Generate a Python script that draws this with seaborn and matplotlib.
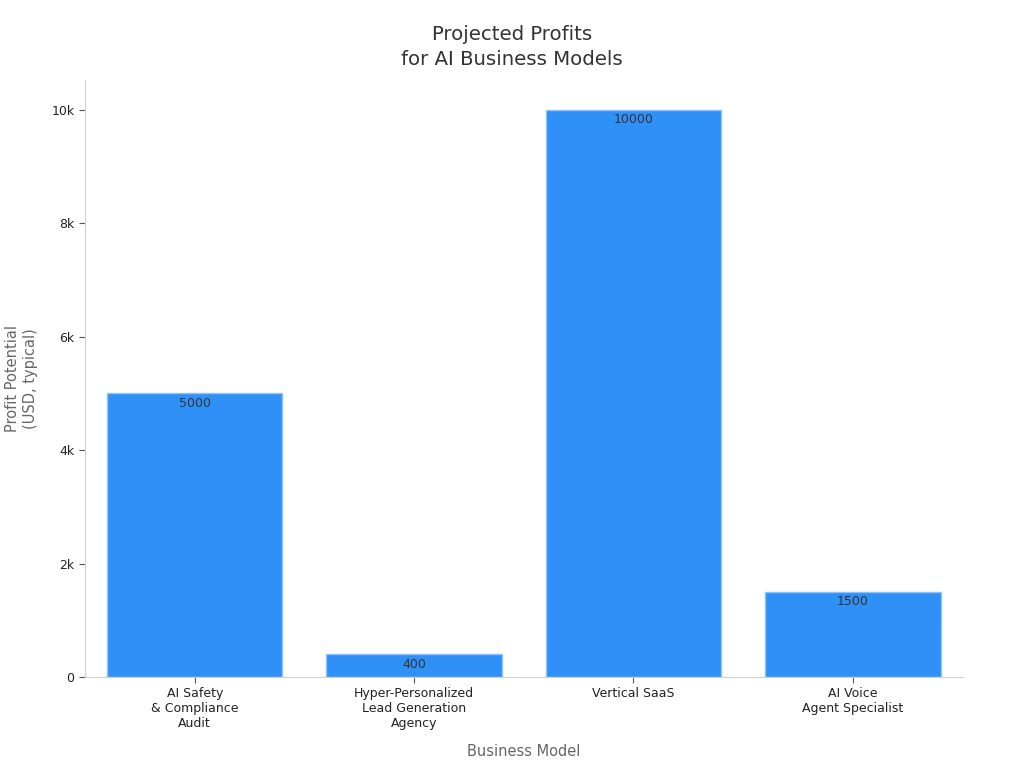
import matplotlib
matplotlib.use("Agg")
import matplotlib.pyplot as plt
import seaborn as sns
import pandas as pd
from matplotlib.ticker import FuncFormatter

models = ["AI Safety\n& Compliance\nAudit",
          "Hyper-Personalized\nLead Generation\nAgency",
          "Vertical SaaS",
          "AI Voice\nAgent Specialist"]
profits = [5000, 400, 10000, 1500]

df = pd.DataFrame({"model": models, "profit": profits})

sns.set_style("white", {"xtick.bottom": True, "ytick.left": True})
plt.rcParams['font.family'] = ['DejaVu Sans']

fig = plt.figure(figsize=(10.24, 7.68), dpi=100)
ax = fig.add_axes([0.083, 0.1185, 0.857, 0.7775])

sns.barplot(data=df, x="model", y="profit", color="#2f91f8", width=0.8,
            edgecolor="#8fc3f7", linewidth=1, saturation=1, ax=ax)

# value labels just inside the top of each bar
for i, v in enumerate(profits):
    ax.annotate(str(v), (i, v), xytext=(0, -2.5), textcoords="offset points",
                ha="center", va="top", fontsize=9, color="#333333")

ax.set_xlim(-0.5, 3.5)
ax.set_ylim(0, 10530)
ax.set_yticks([0, 2000, 4000, 6000, 8000, 10000])
ax.yaxis.set_major_formatter(FuncFormatter(lambda v, p: "0" if v == 0 else f"{int(v/1000)}k"))

sns.despine(ax=ax)
for s in ["left", "bottom"]:
    ax.spines[s].set_color("#d0d0d0")
ax.tick_params(axis="both", labelsize=9, labelcolor="#222222", length=4,
               width=0.8, color="#555555", direction="out", bottom=True, left=True)

ax.set_xlabel("Business Model", fontsize=10.5, color="#666666", labelpad=10)
ax.set_ylabel("Profit Potential\n(USD, typical)", fontsize=10.5, color="#666666", labelpad=10)
fig.text(0.5, 0.967, "Projected Profits\nfor AI Business Models", fontsize=14.2,
         color="#333333", ha="center", va="top", linespacing=1.4)

fig.savefig("out.png", dpi=100)
